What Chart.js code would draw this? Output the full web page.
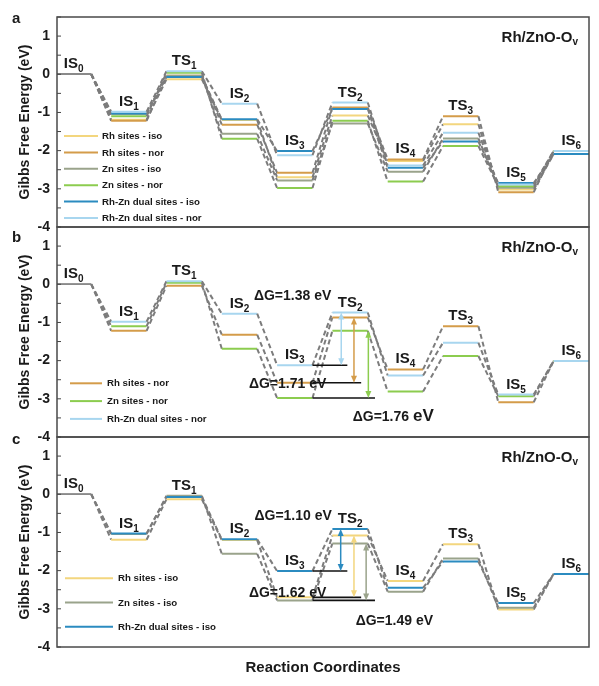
<!DOCTYPE html>
<html>
<head>
<meta charset="utf-8">
<script src="https://cdn.jsdelivr.net/npm/chart.js@4.4.0/dist/chart.umd.min.js"></script>
<style>
  body { margin: 0; background: #fff; }
  #wrap { position: relative; width: 599px; height: 686px; }
  .panel { position: absolute; left: 0; width: 599px; }
</style>
</head>
<body>
<div id="wrap">
  <div class="panel" style="top:0;height:243px"><canvas id="pa"></canvas></div>
  <div class="panel" style="top:211px;height:242px"><canvas id="pb"></canvas></div>
  <div class="panel" style="top:421px;height:265px"><canvas id="pc"></canvas></div>
</div>
<script>
// reaction states along the x axis
const states = ["IS0", "IS1", "TS1", "IS2", "IS3", "TS2", "IS4", "TS3", "IS5", "IS6"];
const seriesNames = ["Rh sites - iso", "Rh sites - nor", "Zn sites - iso", "Zn sites - nor",
  "Rh-Zn dual sites - iso", "Rh-Zn dual sites - nor"];

// Gibbs free energy (eV) per state
const rhIso   = [0, -1.19, -0.13, -1.20, -2.70, -1.08, -2.27, -1.31, -3.02, -2.09];
const rhNor   = [0, -1.22, -0.04, -1.32, -2.58, -0.87, -2.23, -1.10, -3.09, -2.01];
const znIso   = [0, -1.04, -0.04, -1.56, -2.78, -1.29, -2.55, -1.68, -2.97, -2.09];
const znNor   = [0, -1.10,  0.04, -1.69, -2.98, -1.22, -2.81, -1.88, -2.93, -2.01];
const rhznIso = [0, -1.03, -0.07, -1.18, -2.01, -0.91, -2.45, -1.76, -2.85, -2.09];
const rhznNor = [0, -0.98,  0.08, -0.77, -2.12, -0.74, -2.39, -1.53, -2.89, -2.01];

const yTickLabels = [1, 0, -1, -2, -3, -4];

// barrier IS3 -> TS2 as printed
const dGnor = [1.71, 1.76, 1.38];   // Rh, Zn, Rh-Zn
const dGiso = [1.62, 1.49, 1.10];

const FONT = '"Liberation Sans", Arial, sans-serif';
const TEXT = "#1a1a1a";
const DASH_GRAY = "#7c7c7c";
const HW = 0.32;

const SERIES = [
  { name: seriesNames[0], data: rhIso,   color: "#f3d67e" },
  { name: seriesNames[1], data: rhNor,   color: "#d49c4a" },
  { name: seriesNames[2], data: znIso,   color: "#9aa38b" },
  { name: seriesNames[3], data: znNor,   color: "#8ccc4f" },
  { name: seriesNames[4], data: rhznIso, color: "#2b8bc0" },
  { name: seriesNames[5], data: rhznNor, color: "#a8d6ef" },
];

const PANELS = [
  { id: "pa", series: [0, 1, 2, 3, 4, 5], letter: "a", letterDy: 6,
    legend: { x0: 64, x1: 98, tx: 102, y0: 119, dy: 16.4 }, ann: null, xTitle: false,
    pad: { top: 17, bottom: 16 } },
  { id: "pb", series: [1, 3, 5], letter: "b", letterDy: 15,
    legend: { x0: 70, x1: 102, tx: 107, y0: 156.3, dy: 17.8 }, xTitle: false,
    ann: [
      { s: 1, ax: 5.07, end: 5.20, dg: dGnor[0], tx: 3.87, ty: -2.72 },
      { s: 3, ax: 5.33, end: 5.45, dg: dGnor[1], tx: 5.78, ty: -3.58, bigEv: true },
      { s: 5, ax: 4.84, end: 4.95, dg: dGnor[2], tx: 3.96, ty: -0.41 },
    ],
    pad: { top: 16, bottom: 16 } },
  { id: "pc", series: [0, 2, 4], letter: "c", letterDy: 7,
    legend: { x0: 65, x1: 113, tx: 118, y0: 141.3, dy: 24.2 }, xTitle: true,
    ann: [
      { s: 0, ax: 5.07, end: 5.20, dg: dGiso[0], tx: 3.87, ty: -2.69 },
      { s: 2, ax: 5.29, end: 5.45, dg: dGiso[1], tx: 5.80, ty: -3.42 },
      { s: 4, ax: 4.83, end: 4.95, dg: dGiso[2], tx: 3.97, ty: -0.67 },
    ],
    pad: { top: 16, bottom: 0 } },
];

function levelPoints(vals) {
  const pts = [];
  vals.forEach((e, i) => {
    pts.push({ x: i - HW, y: e }, { x: i + HW, y: e });
  });
  return pts;
}

function drawRich(ctx, parts, x, y, align) {
  let total = 0;
  parts.forEach((p) => {
    ctx.font = `bold ${p.size}px ${FONT}`;
    p.w = ctx.measureText(p.t).width;
    total += p.w;
  });
  let cx = align === "right" ? x - total : align === "center" ? x - total / 2 : x;
  parts.forEach((p) => {
    ctx.font = `bold ${p.size}px ${FONT}`;
    ctx.fillText(p.t, cx, y + (p.dy || 0));
    cx += p.w;
  });
}

function arrowHead(ctx, x, y, dir) {
  ctx.beginPath();
  ctx.moveTo(x, y);
  ctx.lineTo(x - 3, y + dir * 7);
  ctx.lineTo(x + 3, y + dir * 7);
  ctx.closePath();
  ctx.fill();
}

function makeDecor(panel) {
  return {
    id: "decor",
    afterDatasetsDraw(chart) {
      const { ctx, chartArea: ca, scales: { x, y } } = chart;
      ctx.save();

      // inward tick marks
      ctx.strokeStyle = "#444";
      ctx.lineWidth = 1;
      y.ticks.forEach((t) => {
        const py = y.getPixelForValue(t.value);
        ctx.beginPath();
        ctx.moveTo(ca.left, py);
        ctx.lineTo(ca.left + 4, py);
        ctx.stroke();
      });

      // frame
      ctx.lineWidth = 1.5;
      ctx.strokeStyle = "#4a4a4a";
      ctx.strokeRect(ca.left, ca.top, ca.width, ca.height);

      ctx.fillStyle = TEXT;
      ctx.textBaseline = "alphabetic";

      // state labels
      states.forEach((s, i) => {
        const top = Math.max(...panel.series.map((k) => SERIES[k].data[i]));
        const py = y.getPixelForValue(top) - 6;
        drawRich(ctx, [{ t: s.slice(0, 2), size: 15 }, { t: s.slice(2), size: 10, dy: 4 }],
          x.getPixelForValue(i), py, "center");
      });

      // title and panel letter
      drawRich(ctx, [{ t: "Rh/ZnO-O", size: 15 }, { t: "v", size: 10, dy: 3 }],
        ca.right - 11, ca.top + 25, "right");
      drawRich(ctx, [{ t: panel.letter, size: 15 }], 12, ca.top + panel.letterDy, "left");

      // barrier annotations
      if (panel.ann) {
        panel.ann.forEach((a) => {
          const d = SERIES[a.s].data;
          const py = y.getPixelForValue(d[4]);
          ctx.strokeStyle = "#111";
          ctx.lineWidth = 1.6;
          ctx.beginPath();
          ctx.moveTo(x.getPixelForValue(4 + HW), py);
          ctx.lineTo(x.getPixelForValue(a.end), py);
          ctx.stroke();
        });
        panel.ann.forEach((a) => {
          const d = SERIES[a.s].data;
          const c = SERIES[a.s].color;
          const px = x.getPixelForValue(a.ax);
          const y1 = y.getPixelForValue(d[5]);
          const y2 = y.getPixelForValue(d[4]);
          ctx.strokeStyle = c;
          ctx.fillStyle = c;
          ctx.lineWidth = 1.5;
          ctx.beginPath();
          ctx.moveTo(px, y1 + 5);
          ctx.lineTo(px, y2 - 5);
          ctx.stroke();
          arrowHead(ctx, px, y1, 1);
          arrowHead(ctx, px, y2, -1);
        });
        ctx.fillStyle = TEXT;
        panel.ann.forEach((a) => {
          const parts = [{ t: `\u0394G=${a.dg.toFixed(2)} `, size: 14 }, { t: "eV", size: a.bigEv ? 17 : 14 }];
          drawRich(ctx, parts, x.getPixelForValue(a.tx), y.getPixelForValue(a.ty), "center");
        });
      }

      // legend inside plot
      const L = panel.legend;
      ctx.textBaseline = "middle";
      panel.series.forEach((k, j) => {
        const ry = ca.top + L.y0 + j * L.dy;
        ctx.strokeStyle = SERIES[k].color;
        ctx.lineWidth = 2;
        ctx.beginPath();
        ctx.moveTo(L.x0, ry);
        ctx.lineTo(L.x1, ry);
        ctx.stroke();
        ctx.fillStyle = TEXT;
        ctx.font = `bold 9.7px ${FONT}`;
        ctx.fillText(SERIES[k].name, L.tx, ry + 0.5);
      });

      ctx.restore();
    },
  };
}

PANELS.forEach((panel) => {
  const n = SERIES.length;
  const datasets = panel.series.map((k) => {
    const s = SERIES[k];
    return {
      label: s.name,
      data: levelPoints(s.data),
      order: n - k,
      borderColor: s.color,
      borderWidth: 2,
      pointRadius: 0,
      tension: 0,
      segment: {
        borderColor: (c) => (c.p0DataIndex === 0 ? "#8a8a8a" : c.p0DataIndex % 2 ? DASH_GRAY : s.color),
        borderDash: (c) => (c.p0DataIndex % 2 ? [5, 3] : []),
        borderWidth: (c) => (c.p0DataIndex === 0 ? 1.5 : c.p0DataIndex % 2 ? 2 : 2),
      },
    };
  });

  new Chart(document.getElementById(panel.id), {
    type: "line",
    data: { datasets },
    options: {
      responsive: true,
      maintainAspectRatio: false,
      animation: false,
      events: [],
      layout: { padding: { left: 0, right: 10, top: panel.pad.top, bottom: panel.pad.bottom } },
      plugins: { legend: { display: false }, tooltip: { enabled: false } },
      scales: {
        x: {
          type: "linear",
          min: -0.3,
          max: 9.32,
          display: panel.xTitle,
          ticks: { display: false },
          grid: { display: false, drawTicks: false },
          border: { display: false },
          title: {
            display: panel.xTitle,
            text: "Reaction Coordinates",
            color: TEXT,
            font: { family: FONT, size: 15, weight: "bold" },
            padding: { top: 0, bottom: 9 },
          },
          afterFit(scale) { scale.height = panel.xTitle ? 39 : 0; },
        },
        y: {
          min: -4,
          max: 1.5,
          ticks: {
            stepSize: 0.5,
            autoSkip: false,
            padding: 7,
            color: TEXT,
            font: { family: FONT, size: 14, weight: "bold" },
            callback: (v) => (yTickLabels.includes(v) ? String(v) : ""),
          },
          grid: { display: false, drawTicks: false },
          border: { display: false },
          title: {
            display: true,
            text: "Gibbs Free Energy (eV)",
            color: TEXT,
            font: { family: FONT, size: 14, weight: "bold" },
            padding: { top: 16.6, bottom: 0 },
          },
          afterFit(scale) { scale.width = 57; },
        },
      },
    },
    plugins: [makeDecor(panel)],
  });
});
</script>
</body>
</html>
